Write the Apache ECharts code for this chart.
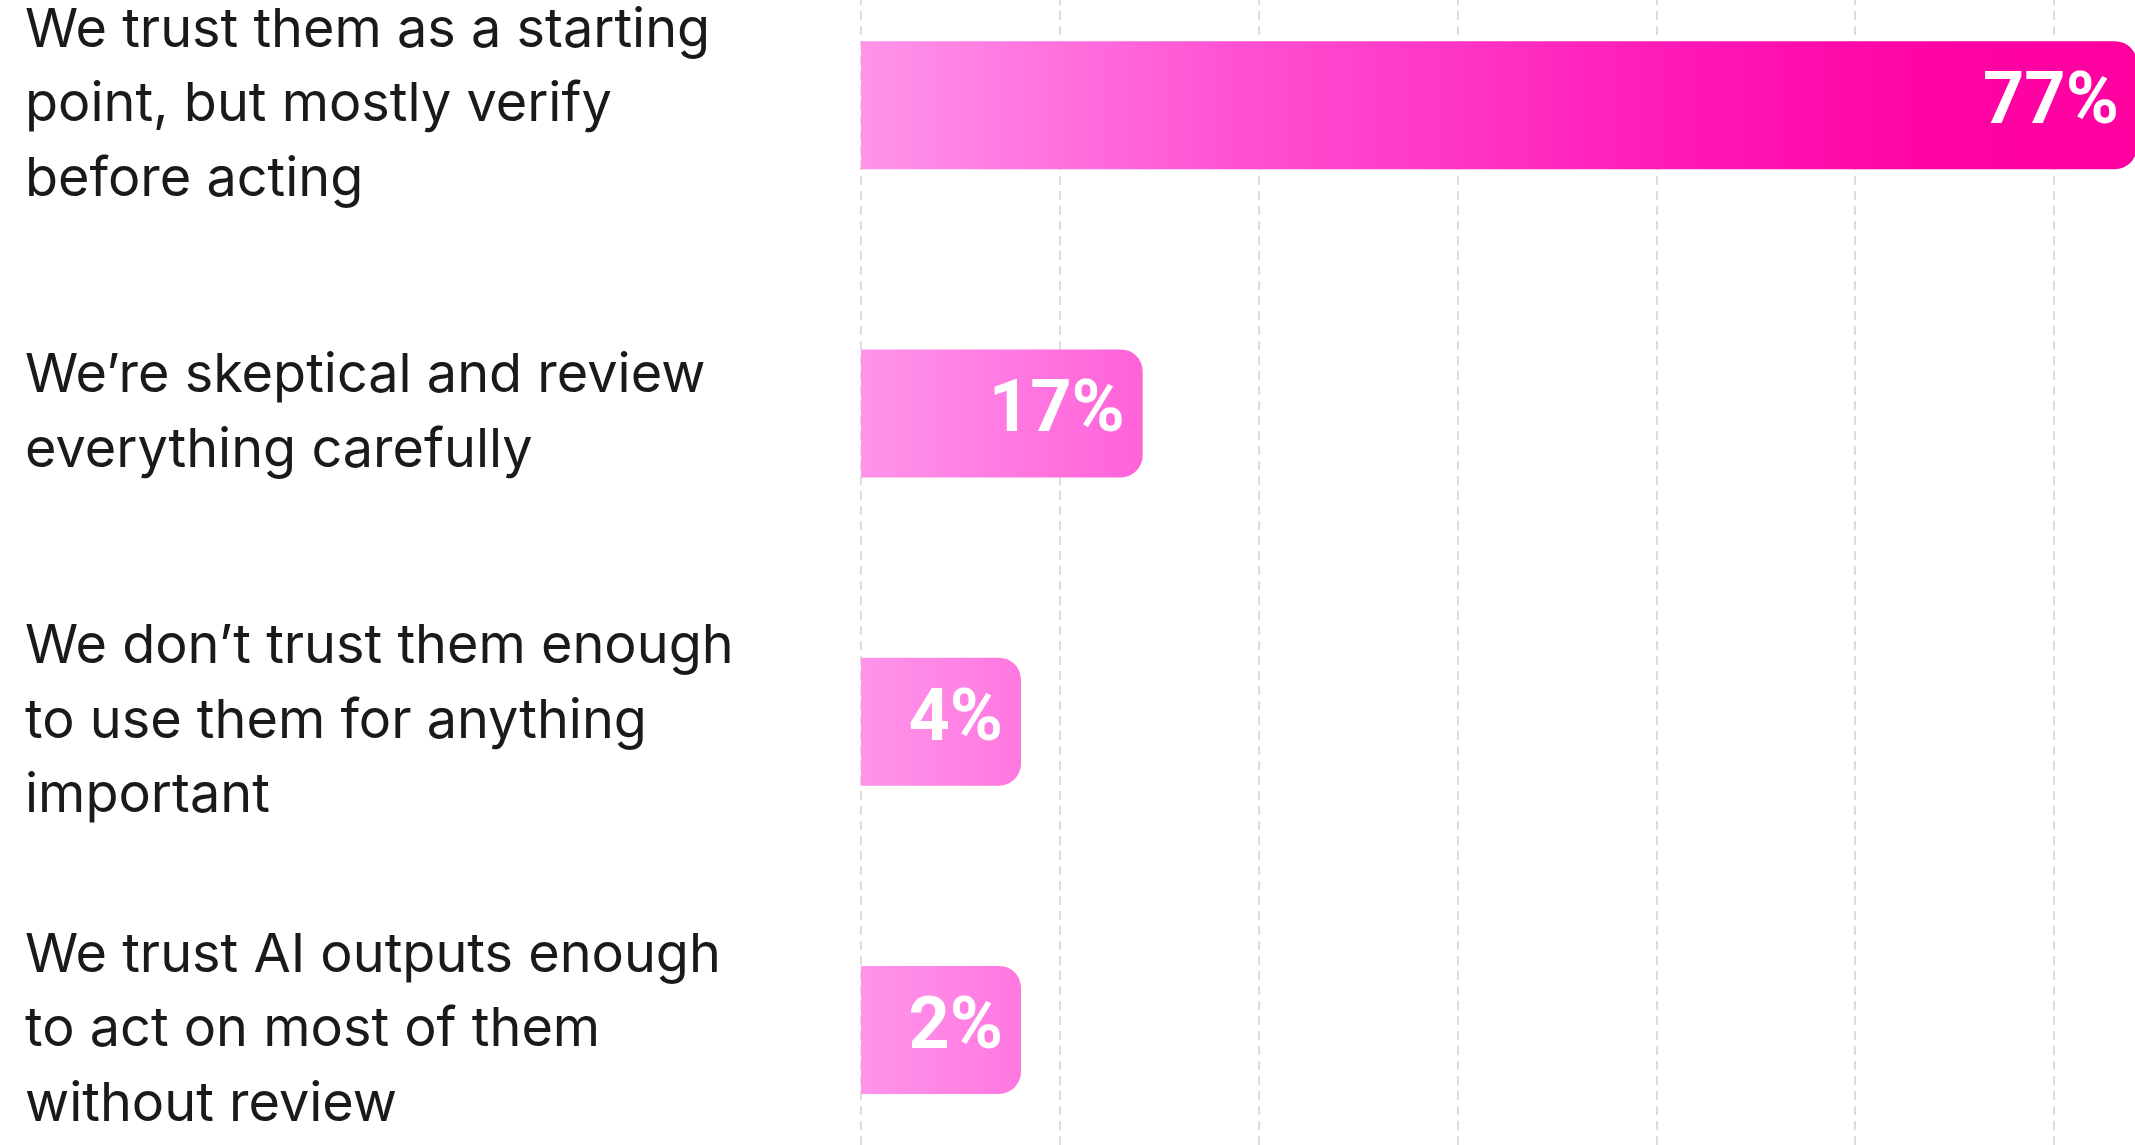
<!DOCTYPE html>
<html>
<head>
<meta charset="utf-8">
<script src="https://cdn.jsdelivr.net/npm/echarts@6/dist/echarts.min.js"></script>
<style>
  html, body { margin: 0; padding: 0; background: #ffffff; }
  #chart { width: 2135px; height: 1145px; }
</style>
</head>
<body>
<div id="chart"></div>
<script>
// ---- data ----
const categories = [
  "We trust them as a starting\npoint, but mostly verify\nbefore acting",
  "We\u2019re skeptical and review\neverything carefully",
  "We don\u2019t trust them enough\nto use them for anything\nimportant",
  "We trust AI outputs enough\nto act on most of them\nwithout review"
];
const values = [77, 17, 4, 2];
const axisMin = 0;
const axisMax = 84;
const axisInterval = 12;

// ---- layout constants (style only) ----
const W = 2135, H = 1145;
const gridLeft = 861;
const unitPx = 16.57;
const gridWidth = (axisMax - axisMin) * unitPx;
const gridRight = W - gridLeft - gridWidth;
const gridTop = -49;
const gridHeight = 1233;
const gridBottom = H - gridTop - gridHeight;

const chart = echarts.init(document.getElementById('chart'), null, { renderer: 'canvas' });

const barGradient = {
  type: 'linear',
  x: gridLeft, y: 0, x2: gridLeft + 77 * unitPx, y2: 0,
  global: true,
  colorStops: [
    { offset: 0, color: '#ff94ea' },
    { offset: 0.3, color: '#ff50d2' },
    { offset: 0.66, color: '#ff16b5' },
    { offset: 0.85, color: '#ff03a3' },
    { offset: 1, color: '#ff009f' }
  ]
};

chart.setOption({
  backgroundColor: '#ffffff',
  animation: false,
  grid: {
    left: gridLeft, right: gridRight, top: gridTop, bottom: gridBottom,
    containLabel: false,
    outerBoundsMode: 'none'
  },
  xAxis: {
    type: 'value',
    min: axisMin,
    max: axisMax,
    interval: axisInterval,
    axisLine: { show: false },
    axisTick: { show: false },
    axisLabel: { show: false },
    splitLine: { show: true, lineStyle: { color: '#d2d2d2', width: 1.5, type: [9, 6] } }
  },
  yAxis: {
    type: 'category',
    inverse: true,
    data: categories,
    axisLine: { show: false },
    axisTick: { show: false },
    splitLine: { show: false },
    axisLabel: {
      align: 'left',
      margin: gridLeft - 25,
      fontFamily: 'Inter',
      fontSize: 54,
      lineHeight: 74.5,
      color: '#1a1a1a'
    }
  },
  series: [{
    type: 'bar',
    data: values,
    barWidth: 128,
    barMinHeight: 160,
    itemStyle: {
      color: barGradient,
      borderRadius: [0, 22, 22, 0]
    },
    label: {
      show: true,
      position: 'insideRight',
      distance: 18,
      formatter: '{c}%',
      color: '#ffffff',
      fontFamily: 'Roboto',
      fontWeight: 'bold',
      fontSize: 72
    }
  }]
});
</script>
</body>
</html>
